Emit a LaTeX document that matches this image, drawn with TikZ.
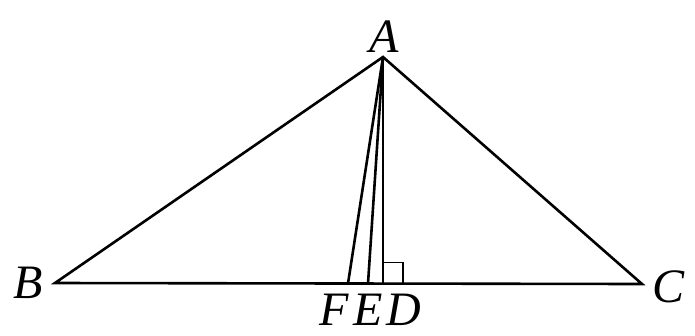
\documentclass[tikz,border=0pt]{standalone}
\usepackage{fontspec}
\setmainfont{Liberation Serif}
\usetikzlibrary{positioning}

\begin{document}
\begin{tikzpicture}[x=1pt,y=-1pt,line width=2.6pt,line join=miter,
  lbl/.style={font=\fontsize{48}{50}\selectfont\itshape,inner sep=0pt}]
        \useasboundingbox (0,0) rectangle (695,335);
        % points
        \coordinate (A) at (383,57);
        \coordinate (B) at (55,283);
        \coordinate (C) at (642,284);
        \coordinate (F) at (348,283.5);
        \coordinate (E) at (368,283.5);
        \coordinate (D) at (383,283.5);
        % triangle and cevians
        \draw (B) -- (A) -- (C) -- cycle;
        \draw (A) -- (F);
        \draw (A) -- (E);
        \draw (A) -- (D);
        \draw[line width=1.8pt] ([shift={(0,-21)}]D) -| ([shift={(20,0)}]D);
        % labels
        \node[lbl] (a) at (384,37) {A};
        \node[lbl] (b) at (28,283) {B};
        \node[lbl] (c) at (668,287) {C};
        \node[lbl] (f) at (334,310) {F};
        \node[lbl] (e) at (368,310) {E};
        \node[lbl] (d) at (404,310) {D};
      \end{tikzpicture}
\end{document}
